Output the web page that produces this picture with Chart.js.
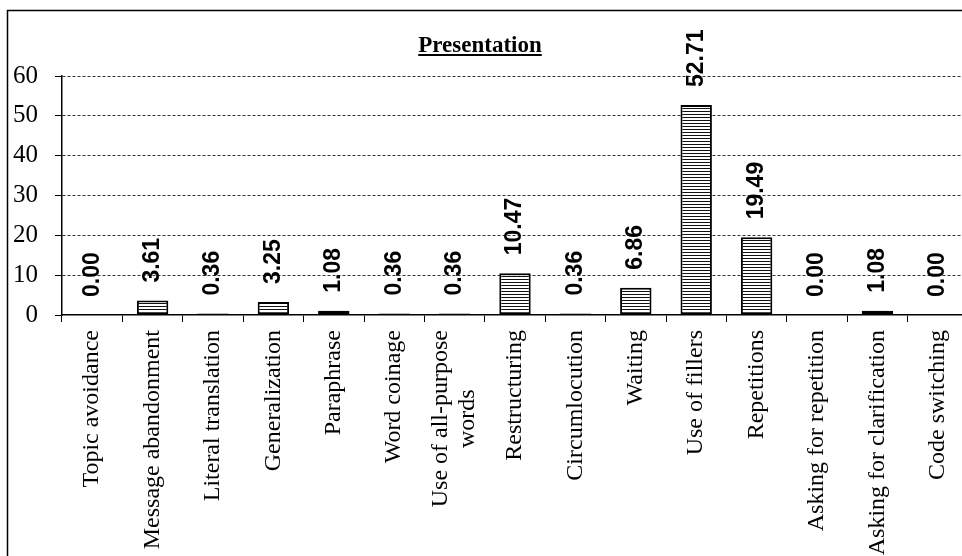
<!DOCTYPE html>
<html>
<head>
<meta charset="utf-8">
<script src="https://cdn.jsdelivr.net/npm/chart.js@4"></script>
<style>
  html, body { margin: 0; padding: 0; background: #fff; overflow: hidden; }
  #wrap { width: 968px; height: 556px; position: relative; }
</style>
</head>
<body>
<div id="wrap"><canvas id="graficoPresentation"></canvas></div>
<script>
const chartTitle = "Presentation";
const categorias = [
    ["Topic avoidance"],
    ["Message abandonment"],
    ["Literal translation"],
    ["Generalization"],
    ["Paraphrase"],
    ["Word coinage"],
    ["Use of all-purpose", "words"],
    ["Restructuring"],
    ["Circumlocution"],
    ["Waiting"],
    ["Use of fillers"],
    ["Repetitions"],
    ["Asking for repetition"],
    ["Asking for clarification"],
    ["Code switching"]
];
const valores = [0.00, 3.61, 0.36, 3.25, 1.08, 0.36, 0.36, 10.47, 0.36, 6.86, 52.71, 19.49, 0.00, 1.08, 0.00];
const yTicks = [0, 10, 20, 30, 40, 50, 60];

const serif = '"Times New Roman", "Liberation Serif", serif';
const sans = 'Arial, "Liberation Sans", sans-serif';

// horizontal stripe fill for the bars
function listras() {
    const c = document.createElement("canvas");
    c.width = 4;
    c.height = 3;
    const g = c.getContext("2d");
    g.fillStyle = "#fff";
    g.fillRect(0, 0, 4, 3);
    g.fillStyle = "#111";
    g.fillRect(0, 0, 4, 1);
    return g.createPattern(c, "repeat");
}

// outer frame, underlined title, value labels and category labels
const extras = {
    id: "extras",
    beforeDraw(chart) {
        const ctx = chart.ctx;
        ctx.save();
        ctx.strokeStyle = "#000";
        ctx.lineWidth = 1.5;
        ctx.strokeRect(7.5, 10.5, 1100, 700);
        ctx.restore();
    },
    afterDraw(chart) {
        const ctx = chart.ctx;
        const area = chart.chartArea;

        ctx.save();
        ctx.font = "bold 23px " + serif;
        ctx.fillStyle = "#000";
        ctx.textAlign = "center";
        ctx.textBaseline = "alphabetic";
        const tx = 480, ty = 52;
        ctx.fillText(chartTitle, tx, ty);
        const w = ctx.measureText(chartTitle).width;
        ctx.strokeStyle = "#000";
        ctx.lineWidth = 2;
        ctx.beginPath();
        ctx.moveTo(tx - w / 2, ty + 3);
        ctx.lineTo(tx + w / 2, ty + 3);
        ctx.stroke();
        ctx.restore();

        const meta = chart.getDatasetMeta(0);
        const xScale = chart.scales.x;

        meta.data.forEach((bar, i) => {
            ctx.save();
            ctx.translate(bar.x, bar.y - 18);
            ctx.rotate(-Math.PI / 2);
            ctx.font = "bold 23px " + sans;
            ctx.fillStyle = "#000";
            ctx.textAlign = "left";
            ctx.textBaseline = "middle";
            ctx.fillText(valores[i].toFixed(2), 0, 0);
            ctx.restore();
        });

        categorias.forEach((linhas, i) => {
            const cx = xScale.getPixelForValue(i);
            ctx.save();
            ctx.font = "24px " + serif;
            ctx.fillStyle = "#000";
            ctx.textAlign = "center";
            ctx.textBaseline = "middle";
            let maxW = 0;
            linhas.forEach(l => { maxW = Math.max(maxW, ctx.measureText(l).width); });
            ctx.translate(cx, area.bottom + 15);
            ctx.rotate(-Math.PI / 2);
            const lh = 27;
            linhas.forEach((l, k) => {
                ctx.fillText(l, -maxW / 2, (k - (linhas.length - 1) / 2) * lh);
            });
            ctx.restore();
        });
    }
};

new Chart(document.getElementById("graficoPresentation"), {
    type: "bar",
    data: {
        labels: categorias.map(c => c.join(" ")),
        datasets: [{
            data: valores,
            backgroundColor: listras(),
            borderColor: "#000",
            borderWidth: 2,
            borderSkipped: false,
            categoryPercentage: 1,
            barPercentage: 0.52
        }]
    },
    options: {
        responsive: true,
        maintainAspectRatio: false,
        animation: false,
        layout: {
            padding: { top: 76, left: 0, right: 0, bottom: 234 }
        },
        scales: {
            x: {
                grid: {
                    display: true,
                    drawOnChartArea: false,
                    drawTicks: true,
                    tickLength: 7,
                    tickColor: "#000",
                    offset: true
                },
                border: { color: "#000", width: 1.5 },
                ticks: { display: false }
            },
            y: {
                min: 0,
                max: 60,
                afterBuildTicks(scale) {
                    scale.ticks = yTicks.map(v => ({ value: v }));
                },
                afterFit(scale) {
                    scale.width = 62;
                },
                grid: {
                    color: ctx => ctx.tick && ctx.tick.value === 0 ? "rgba(0,0,0,0)" : "#333",
                    lineWidth: 1,
                    tickLength: 7,
                    tickColor: "#000"
                },
                border: { color: "#000", width: 1.5, dash: [3, 2] },
                ticks: {
                    padding: 17,
                    color: "#000",
                    font: { family: serif, size: 25 }
                }
            }
        },
        plugins: {
            legend: { display: false },
            title: { display: false },
            tooltip: { enabled: false }
        }
    },
    plugins: [extras]
});
</script>
</body>
</html>
